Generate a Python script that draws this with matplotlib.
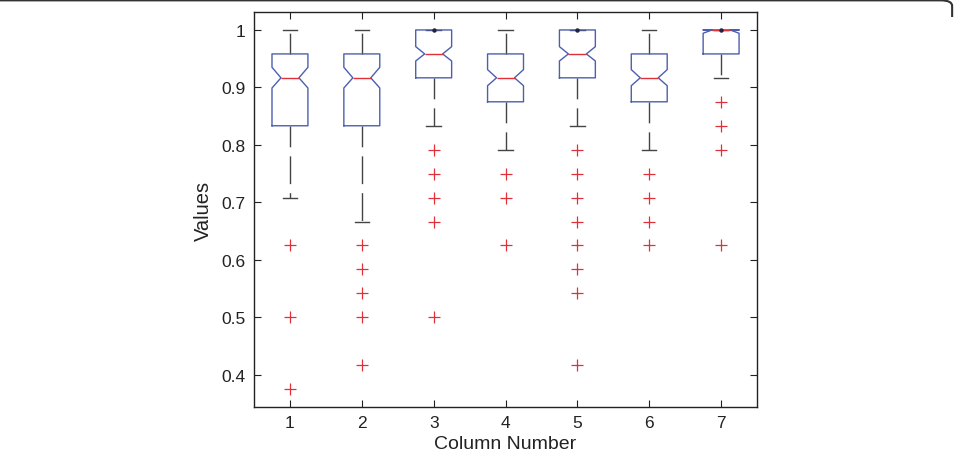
import matplotlib
matplotlib.use("Agg")
import matplotlib.pyplot as plt
from matplotlib.patches import FancyBboxPatch, Rectangle

plt.rcParams['font.family'] = ['Liberation Sans', 'DejaVu Sans']
plt.rcParams['lines.scale_dashes'] = False

columns = [1, 2, 3, 4, 5, 6, 7]
medians = [0.9167, 0.9167, 0.9583, 0.9167, 0.9583, 0.9167, 1.0]
q1s = [0.8333, 0.8333, 0.9167, 0.875, 0.9167, 0.875, 0.9583]
q3s = [0.9583, 0.9583, 1.0, 0.9583, 1.0, 0.9583, 1.0]
whis_lo = [0.7083, 0.6667, 0.8333, 0.7917, 0.8333, 0.7917, 0.9167]
whis_hi = [1.0, 1.0, 1.0, 1.0, 1.0, 1.0, 1.0]
notch_lo = [0.899, 0.899, 0.946, 0.903, 0.946, 0.903, 0.9943]
notch_hi = [0.935, 0.935, 0.971, 0.931, 0.971, 0.931, 1.0]
outliers = [
    [0.625, 0.5, 0.375],
    [0.625, 0.5833, 0.5417, 0.5, 0.4167],
    [0.7917, 0.75, 0.7083, 0.6667, 0.5],
    [0.75, 0.7083, 0.625],
    [0.7917, 0.75, 0.7083, 0.6667, 0.625, 0.5833, 0.5417, 0.4167],
    [0.75, 0.7083, 0.6667, 0.625],
    [0.875, 0.8333, 0.7917, 0.625],
]
yticks = [0.4, 0.5, 0.6, 0.7, 0.8, 0.9, 1.0]
ytick_labels = ['0.4', '0.5', '0.6', '0.7', '0.8', '0.9', '1']

stats = []
for i in range(len(columns)):
    stats.append(dict(med=medians[i], q1=q1s[i], q3=q3s[i],
                      whislo=whis_lo[i], whishi=whis_hi[i],
                      cilo=notch_lo[i], cihi=notch_hi[i],
                      fliers=outliers[i], label=str(columns[i])))

fig = plt.figure(figsize=(9.55, 4.56), dpi=100)
ax = fig.add_axes([0.266, 0.105, 0.5267, 0.8665])

blue = '#4c5fae'
red = '#e0303a'
ax.bxp(stats, positions=columns, widths=0.5, shownotches=True,
       boxprops=dict(color=blue, linewidth=1.0, zorder=3),
       medianprops=dict(color=red, linewidth=1.0, zorder=4),
       whiskerprops=dict(color='#444444', linewidth=1.0, linestyle=(5, (20, 6.5)), zorder=2),
       capprops=dict(color='#444444', linewidth=1.0, zorder=2),
       flierprops=dict(marker='+', markeredgecolor=red, markersize=9,
                       markeredgewidth=0.9, linestyle='none'),
       capwidths=0.2)

# zero-length upper whiskers show as a small dark dot
for i in range(len(columns)):
    if whis_hi[i] == q3s[i]:
        ax.plot([columns[i]], [whis_hi[i]], marker='o', markersize=2.2,
                color='#222244', zorder=5)

ax.set_xlim(0.5, 7.5)
ax.set_ylim(0.34375, 1.03125)
ax.set_xticks(columns)
ax.set_xticklabels([str(c) for c in columns])
ax.set_yticks(yticks)
ax.set_yticklabels(ytick_labels)
ax.tick_params(direction='in', top=True, right=True, length=5, width=0.8,
               labelsize=12.5, colors='#222222', pad=6)
for s in ax.spines.values():
    s.set_linewidth(1.0)
    s.set_color('#222222')
ax.set_xlabel('Column Number', fontsize=14, color='#222222', labelpad=3.5)
ax.set_ylabel('Values', fontsize=14.5, color='#222222', labelpad=6)

frame = FancyBboxPatch((-0.02, -0.2), 1.017, 1.197, boxstyle='round,pad=0,rounding_size=0.012',
                       transform=fig.transFigure, facecolor='none',
                       edgecolor='#333333', linewidth=1.5, clip_on=True)
clip = Rectangle((0, 0.96), 1, 0.04, transform=fig.transFigure)
frame.set_clip_path(clip)
fig.patches.append(frame)

fig.savefig('out.png', dpi=100)
